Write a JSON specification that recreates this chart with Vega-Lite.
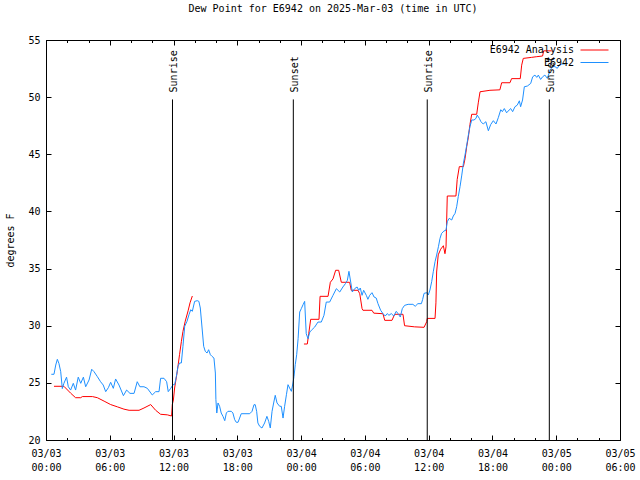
{
 "$schema": "https://vega.github.io/schema/vega-lite/v6.json",
 "width": 574, "height": 400,
 "autosize": {"type": "none"},
 "padding": {"left": 46, "top": 40, "right": 20, "bottom": 40},
 "background": "white",
 "title": {"text": "Dew Point for E6942 on 2025-Mar-03 (time in UTC)", "anchor": "middle", "frame": "group", "baseline": "alphabetic", "offset": 13, "fontSize": 10, "fontWeight": "normal", "font": "DejaVu Sans Mono", "color": "black"},
 "datasets": {
  "obs": [
   {"time":"2025-03-03T00:45:00Z","series":"E6942 Analysis","segment":1,"dewpoint":24.7},
   {"time":"2025-03-03T01:41:00Z","series":"E6942 Analysis","segment":1,"dewpoint":24.7},
   {"time":"2025-03-03T02:19:00Z","series":"E6942 Analysis","segment":1,"dewpoint":24.1},
   {"time":"2025-03-03T02:47:00Z","series":"E6942 Analysis","segment":1,"dewpoint":23.7},
   {"time":"2025-03-03T03:16:00Z","series":"E6942 Analysis","segment":1,"dewpoint":23.7},
   {"time":"2025-03-03T03:25:00Z","series":"E6942 Analysis","segment":1,"dewpoint":23.8},
   {"time":"2025-03-03T04:22:00Z","series":"E6942 Analysis","segment":1,"dewpoint":23.8},
   {"time":"2025-03-03T04:50:00Z","series":"E6942 Analysis","segment":1,"dewpoint":23.7},
   {"time":"2025-03-03T05:28:00Z","series":"E6942 Analysis","segment":1,"dewpoint":23.4},
   {"time":"2025-03-03T06:05:00Z","series":"E6942 Analysis","segment":1,"dewpoint":23.1},
   {"time":"2025-03-03T06:43:00Z","series":"E6942 Analysis","segment":1,"dewpoint":22.9},
   {"time":"2025-03-03T07:20:00Z","series":"E6942 Analysis","segment":1,"dewpoint":22.7},
   {"time":"2025-03-03T07:49:00Z","series":"E6942 Analysis","segment":1,"dewpoint":22.6},
   {"time":"2025-03-03T08:45:00Z","series":"E6942 Analysis","segment":1,"dewpoint":22.6},
   {"time":"2025-03-03T09:13:00Z","series":"E6942 Analysis","segment":1,"dewpoint":22.8},
   {"time":"2025-03-03T09:51:00Z","series":"E6942 Analysis","segment":1,"dewpoint":23.1},
   {"time":"2025-03-03T10:19:00Z","series":"E6942 Analysis","segment":1,"dewpoint":22.6},
   {"time":"2025-03-03T10:47:00Z","series":"E6942 Analysis","segment":1,"dewpoint":22.25},
   {"time":"2025-03-03T11:25:00Z","series":"E6942 Analysis","segment":1,"dewpoint":22.2},
   {"time":"2025-03-03T11:49:00Z","series":"E6942 Analysis","segment":1,"dewpoint":22.1},
   {"time":"2025-03-03T11:53:00Z","series":"E6942 Analysis","segment":1,"dewpoint":23.1},
   {"time":"2025-03-03T11:59:00Z","series":"E6942 Analysis","segment":1,"dewpoint":23.5},
   {"time":"2025-03-03T12:06:00Z","series":"E6942 Analysis","segment":1,"dewpoint":24.55},
   {"time":"2025-03-03T12:21:00Z","series":"E6942 Analysis","segment":1,"dewpoint":26.0},
   {"time":"2025-03-03T12:34:00Z","series":"E6942 Analysis","segment":1,"dewpoint":27.5},
   {"time":"2025-03-03T12:44:00Z","series":"E6942 Analysis","segment":1,"dewpoint":28.6},
   {"time":"2025-03-03T12:53:00Z","series":"E6942 Analysis","segment":1,"dewpoint":29.5},
   {"time":"2025-03-03T13:06:00Z","series":"E6942 Analysis","segment":1,"dewpoint":30.4},
   {"time":"2025-03-03T13:22:00Z","series":"E6942 Analysis","segment":1,"dewpoint":31.3},
   {"time":"2025-03-03T13:33:00Z","series":"E6942 Analysis","segment":1,"dewpoint":32.0},
   {"time":"2025-03-03T13:46:00Z","series":"E6942 Analysis","segment":1,"dewpoint":32.6},
   {"time":"2025-03-04T00:16:00Z","series":"E6942 Analysis","segment":2,"dewpoint":28.4},
   {"time":"2025-03-04T00:35:00Z","series":"E6942 Analysis","segment":2,"dewpoint":28.4},
   {"time":"2025-03-04T00:43:00Z","series":"E6942 Analysis","segment":2,"dewpoint":29.3},
   {"time":"2025-03-04T00:54:00Z","series":"E6942 Analysis","segment":2,"dewpoint":30.56},
   {"time":"2025-03-04T01:41:00Z","series":"E6942 Analysis","segment":2,"dewpoint":30.56},
   {"time":"2025-03-04T01:47:00Z","series":"E6942 Analysis","segment":2,"dewpoint":32.57},
   {"time":"2025-03-04T02:32:00Z","series":"E6942 Analysis","segment":2,"dewpoint":32.57},
   {"time":"2025-03-04T02:45:00Z","series":"E6942 Analysis","segment":2,"dewpoint":33.8},
   {"time":"2025-03-04T03:00:00Z","series":"E6942 Analysis","segment":2,"dewpoint":34.1},
   {"time":"2025-03-04T03:15:00Z","series":"E6942 Analysis","segment":2,"dewpoint":34.85},
   {"time":"2025-03-04T03:32:00Z","series":"E6942 Analysis","segment":2,"dewpoint":34.85},
   {"time":"2025-03-04T03:47:00Z","series":"E6942 Analysis","segment":2,"dewpoint":33.8},
   {"time":"2025-03-04T04:34:00Z","series":"E6942 Analysis","segment":2,"dewpoint":33.8},
   {"time":"2025-03-04T04:43:00Z","series":"E6942 Analysis","segment":2,"dewpoint":33.1},
   {"time":"2025-03-04T05:21:00Z","series":"E6942 Analysis","segment":2,"dewpoint":33.1},
   {"time":"2025-03-04T05:31:00Z","series":"E6942 Analysis","segment":2,"dewpoint":32.8},
   {"time":"2025-03-04T05:44:00Z","series":"E6942 Analysis","segment":2,"dewpoint":31.5},
   {"time":"2025-03-04T05:49:00Z","series":"E6942 Analysis","segment":2,"dewpoint":31.35},
   {"time":"2025-03-04T06:40:00Z","series":"E6942 Analysis","segment":2,"dewpoint":31.35},
   {"time":"2025-03-04T06:50:00Z","series":"E6942 Analysis","segment":2,"dewpoint":31.1},
   {"time":"2025-03-04T07:42:00Z","series":"E6942 Analysis","segment":2,"dewpoint":31.05},
   {"time":"2025-03-04T07:52:00Z","series":"E6942 Analysis","segment":2,"dewpoint":30.47},
   {"time":"2025-03-04T08:33:00Z","series":"E6942 Analysis","segment":2,"dewpoint":30.47},
   {"time":"2025-03-04T08:48:00Z","series":"E6942 Analysis","segment":2,"dewpoint":31.0},
   {"time":"2025-03-04T09:35:00Z","series":"E6942 Analysis","segment":2,"dewpoint":31.0},
   {"time":"2025-03-04T09:44:00Z","series":"E6942 Analysis","segment":2,"dewpoint":30.0},
   {"time":"2025-03-04T10:41:00Z","series":"E6942 Analysis","segment":2,"dewpoint":29.9},
   {"time":"2025-03-04T11:34:00Z","series":"E6942 Analysis","segment":2,"dewpoint":29.86},
   {"time":"2025-03-04T11:49:00Z","series":"E6942 Analysis","segment":2,"dewpoint":30.35},
   {"time":"2025-03-04T11:52:00Z","series":"E6942 Analysis","segment":2,"dewpoint":30.64},
   {"time":"2025-03-04T12:36:00Z","series":"E6942 Analysis","segment":2,"dewpoint":30.64},
   {"time":"2025-03-04T12:41:00Z","series":"E6942 Analysis","segment":2,"dewpoint":32.0},
   {"time":"2025-03-04T12:45:00Z","series":"E6942 Analysis","segment":2,"dewpoint":34.7},
   {"time":"2025-03-04T12:54:00Z","series":"E6942 Analysis","segment":2,"dewpoint":36.2},
   {"time":"2025-03-04T13:08:00Z","series":"E6942 Analysis","segment":2,"dewpoint":36.7},
   {"time":"2025-03-04T13:23:00Z","series":"E6942 Analysis","segment":2,"dewpoint":37.0},
   {"time":"2025-03-04T13:32:00Z","series":"E6942 Analysis","segment":2,"dewpoint":36.3},
   {"time":"2025-03-04T13:38:00Z","series":"E6942 Analysis","segment":2,"dewpoint":36.9},
   {"time":"2025-03-04T13:41:00Z","series":"E6942 Analysis","segment":2,"dewpoint":38.8},
   {"time":"2025-03-04T13:45:00Z","series":"E6942 Analysis","segment":2,"dewpoint":41.35},
   {"time":"2025-03-04T14:34:00Z","series":"E6942 Analysis","segment":2,"dewpoint":41.35},
   {"time":"2025-03-04T14:41:00Z","series":"E6942 Analysis","segment":2,"dewpoint":42.8},
   {"time":"2025-03-04T14:53:00Z","series":"E6942 Analysis","segment":2,"dewpoint":43.92},
   {"time":"2025-03-04T15:16:00Z","series":"E6942 Analysis","segment":2,"dewpoint":43.92},
   {"time":"2025-03-04T15:25:00Z","series":"E6942 Analysis","segment":2,"dewpoint":44.6},
   {"time":"2025-03-04T15:35:00Z","series":"E6942 Analysis","segment":2,"dewpoint":45.7},
   {"time":"2025-03-04T15:44:00Z","series":"E6942 Analysis","segment":2,"dewpoint":46.5},
   {"time":"2025-03-04T15:53:00Z","series":"E6942 Analysis","segment":2,"dewpoint":47.6},
   {"time":"2025-03-04T16:03:00Z","series":"E6942 Analysis","segment":2,"dewpoint":48.5},
   {"time":"2025-03-04T16:31:00Z","series":"E6942 Analysis","segment":2,"dewpoint":48.5},
   {"time":"2025-03-04T16:40:00Z","series":"E6942 Analysis","segment":2,"dewpoint":49.5},
   {"time":"2025-03-04T16:50:00Z","series":"E6942 Analysis","segment":2,"dewpoint":50.47},
   {"time":"2025-03-04T17:46:00Z","series":"E6942 Analysis","segment":2,"dewpoint":50.6},
   {"time":"2025-03-04T18:42:00Z","series":"E6942 Analysis","segment":2,"dewpoint":50.64},
   {"time":"2025-03-04T18:52:00Z","series":"E6942 Analysis","segment":2,"dewpoint":51.26},
   {"time":"2025-03-04T19:39:00Z","series":"E6942 Analysis","segment":2,"dewpoint":51.26},
   {"time":"2025-03-04T19:48:00Z","series":"E6942 Analysis","segment":2,"dewpoint":51.62},
   {"time":"2025-03-04T20:37:00Z","series":"E6942 Analysis","segment":2,"dewpoint":51.62},
   {"time":"2025-03-04T20:45:00Z","series":"E6942 Analysis","segment":2,"dewpoint":52.8},
   {"time":"2025-03-04T20:54:00Z","series":"E6942 Analysis","segment":2,"dewpoint":53.39},
   {"time":"2025-03-04T21:41:00Z","series":"E6942 Analysis","segment":2,"dewpoint":53.48},
   {"time":"2025-03-04T22:10:00Z","series":"E6942 Analysis","segment":2,"dewpoint":53.54},
   {"time":"2025-03-04T22:43:00Z","series":"E6942 Analysis","segment":2,"dewpoint":53.6},
   {"time":"2025-03-04T22:49:00Z","series":"E6942 Analysis","segment":2,"dewpoint":54.05},
   {"time":"2025-03-04T23:34:00Z","series":"E6942 Analysis","segment":2,"dewpoint":54.05},
   {"time":"2025-03-03T00:30:00Z","series":"E6942","segment":1,"dewpoint":25.75},
   {"time":"2025-03-03T00:45:00Z","series":"E6942","segment":1,"dewpoint":25.75},
   {"time":"2025-03-03T00:55:00Z","series":"E6942","segment":1,"dewpoint":26.56},
   {"time":"2025-03-03T01:04:00Z","series":"E6942","segment":1,"dewpoint":27.06},
   {"time":"2025-03-03T01:13:00Z","series":"E6942","segment":1,"dewpoint":26.7},
   {"time":"2025-03-03T01:23:00Z","series":"E6942","segment":1,"dewpoint":25.98},
   {"time":"2025-03-03T01:32:00Z","series":"E6942","segment":1,"dewpoint":24.5},
   {"time":"2025-03-03T01:41:00Z","series":"E6942","segment":1,"dewpoint":24.96},
   {"time":"2025-03-03T01:56:00Z","series":"E6942","segment":1,"dewpoint":25.5},
   {"time":"2025-03-03T02:06:00Z","series":"E6942","segment":1,"dewpoint":24.66},
   {"time":"2025-03-03T02:19:00Z","series":"E6942","segment":1,"dewpoint":24.37},
   {"time":"2025-03-03T02:34:00Z","series":"E6942","segment":1,"dewpoint":24.96},
   {"time":"2025-03-03T02:47:00Z","series":"E6942","segment":1,"dewpoint":24.37},
   {"time":"2025-03-03T03:02:00Z","series":"E6942","segment":1,"dewpoint":25.5},
   {"time":"2025-03-03T03:16:00Z","series":"E6942","segment":1,"dewpoint":24.96},
   {"time":"2025-03-03T03:31:00Z","series":"E6942","segment":1,"dewpoint":25.5},
   {"time":"2025-03-03T03:44:00Z","series":"E6942","segment":1,"dewpoint":24.66},
   {"time":"2025-03-03T04:03:00Z","series":"E6942","segment":1,"dewpoint":25.25},
   {"time":"2025-03-03T04:18:00Z","series":"E6942","segment":1,"dewpoint":26.19},
   {"time":"2025-03-03T04:31:00Z","series":"E6942","segment":1,"dewpoint":25.98},
   {"time":"2025-03-03T04:50:00Z","series":"E6942","segment":1,"dewpoint":25.54},
   {"time":"2025-03-03T05:08:00Z","series":"E6942","segment":1,"dewpoint":25.1},
   {"time":"2025-03-03T05:23:00Z","series":"E6942","segment":1,"dewpoint":24.81},
   {"time":"2025-03-03T05:37:00Z","series":"E6942","segment":1,"dewpoint":24.23},
   {"time":"2025-03-03T05:52:00Z","series":"E6942","segment":1,"dewpoint":24.58},
   {"time":"2025-03-03T06:05:00Z","series":"E6942","segment":1,"dewpoint":25.05},
   {"time":"2025-03-03T06:20:00Z","series":"E6942","segment":1,"dewpoint":24.52},
   {"time":"2025-03-03T06:33:00Z","series":"E6942","segment":1,"dewpoint":25.34},
   {"time":"2025-03-03T06:52:00Z","series":"E6942","segment":1,"dewpoint":24.81},
   {"time":"2025-03-03T07:17:00Z","series":"E6942","segment":1,"dewpoint":23.88},
   {"time":"2025-03-03T07:35:00Z","series":"E6942","segment":1,"dewpoint":24.37},
   {"time":"2025-03-03T07:54:00Z","series":"E6942","segment":1,"dewpoint":24.08},
   {"time":"2025-03-03T08:17:00Z","series":"E6942","segment":1,"dewpoint":24.08},
   {"time":"2025-03-03T08:35:00Z","series":"E6942","segment":1,"dewpoint":25.1},
   {"time":"2025-03-03T08:50:00Z","series":"E6942","segment":1,"dewpoint":24.66},
   {"time":"2025-03-03T09:13:00Z","series":"E6942","segment":1,"dewpoint":24.66},
   {"time":"2025-03-03T09:32:00Z","series":"E6942","segment":1,"dewpoint":24.52},
   {"time":"2025-03-03T10:00:00Z","series":"E6942","segment":1,"dewpoint":23.94},
   {"time":"2025-03-03T10:19:00Z","series":"E6942","segment":1,"dewpoint":24.23},
   {"time":"2025-03-03T10:38:00Z","series":"E6942","segment":1,"dewpoint":24.23},
   {"time":"2025-03-03T10:47:00Z","series":"E6942","segment":1,"dewpoint":25.4},
   {"time":"2025-03-03T11:06:00Z","series":"E6942","segment":1,"dewpoint":25.4},
   {"time":"2025-03-03T11:21:00Z","series":"E6942","segment":1,"dewpoint":25.1},
   {"time":"2025-03-03T11:30:00Z","series":"E6942","segment":1,"dewpoint":24.23},
   {"time":"2025-03-03T11:44:00Z","series":"E6942","segment":1,"dewpoint":24.52},
   {"time":"2025-03-03T11:57:00Z","series":"E6942","segment":1,"dewpoint":24.84},
   {"time":"2025-03-03T12:06:00Z","series":"E6942","segment":1,"dewpoint":24.84},
   {"time":"2025-03-03T12:16:00Z","series":"E6942","segment":1,"dewpoint":25.57},
   {"time":"2025-03-03T12:25:00Z","series":"E6942","segment":1,"dewpoint":26.45},
   {"time":"2025-03-03T12:34:00Z","series":"E6942","segment":1,"dewpoint":26.74},
   {"time":"2025-03-03T12:44:00Z","series":"E6942","segment":1,"dewpoint":26.74},
   {"time":"2025-03-03T12:53:00Z","series":"E6942","segment":1,"dewpoint":28.2},
   {"time":"2025-03-03T13:03:00Z","series":"E6942","segment":1,"dewpoint":29.95},
   {"time":"2025-03-03T13:16:00Z","series":"E6942","segment":1,"dewpoint":30.39},
   {"time":"2025-03-03T13:27:00Z","series":"E6942","segment":1,"dewpoint":30.96},
   {"time":"2025-03-03T13:37:00Z","series":"E6942","segment":1,"dewpoint":31.4},
   {"time":"2025-03-03T13:46:00Z","series":"E6942","segment":1,"dewpoint":31.26},
   {"time":"2025-03-03T13:59:00Z","series":"E6942","segment":1,"dewpoint":32.13},
   {"time":"2025-03-03T14:14:00Z","series":"E6942","segment":1,"dewpoint":32.19},
   {"time":"2025-03-03T14:23:00Z","series":"E6942","segment":1,"dewpoint":32.13},
   {"time":"2025-03-03T14:31:00Z","series":"E6942","segment":1,"dewpoint":31.55},
   {"time":"2025-03-03T14:41:00Z","series":"E6942","segment":1,"dewpoint":29.8},
   {"time":"2025-03-03T14:50:00Z","series":"E6942","segment":1,"dewpoint":28.2},
   {"time":"2025-03-03T14:59:00Z","series":"E6942","segment":1,"dewpoint":27.76},
   {"time":"2025-03-03T15:09:00Z","series":"E6942","segment":1,"dewpoint":27.61},
   {"time":"2025-03-03T15:18:00Z","series":"E6942","segment":1,"dewpoint":27.9},
   {"time":"2025-03-03T15:28:00Z","series":"E6942","segment":1,"dewpoint":27.46},
   {"time":"2025-03-03T15:37:00Z","series":"E6942","segment":1,"dewpoint":27.32},
   {"time":"2025-03-03T15:48:00Z","series":"E6942","segment":1,"dewpoint":27.17},
   {"time":"2025-03-03T15:56:00Z","series":"E6942","segment":1,"dewpoint":25.86},
   {"time":"2025-03-03T15:59:00Z","series":"E6942","segment":1,"dewpoint":23.53},
   {"time":"2025-03-03T16:04:00Z","series":"E6942","segment":1,"dewpoint":22.36},
   {"time":"2025-03-03T16:11:00Z","series":"E6942","segment":1,"dewpoint":23.24},
   {"time":"2025-03-03T16:20:00Z","series":"E6942","segment":1,"dewpoint":22.95},
   {"time":"2025-03-03T16:29:00Z","series":"E6942","segment":1,"dewpoint":22.36},
   {"time":"2025-03-03T16:39:00Z","series":"E6942","segment":1,"dewpoint":22.07},
   {"time":"2025-03-03T16:49:00Z","series":"E6942","segment":1,"dewpoint":21.69},
   {"time":"2025-03-03T16:58:00Z","series":"E6942","segment":1,"dewpoint":22.36},
   {"time":"2025-03-03T17:07:00Z","series":"E6942","segment":1,"dewpoint":22.51},
   {"time":"2025-03-03T17:26:00Z","series":"E6942","segment":1,"dewpoint":22.51},
   {"time":"2025-03-03T17:35:00Z","series":"E6942","segment":1,"dewpoint":22.36},
   {"time":"2025-03-03T17:45:00Z","series":"E6942","segment":1,"dewpoint":21.78},
   {"time":"2025-03-03T17:54:00Z","series":"E6942","segment":1,"dewpoint":21.55},
   {"time":"2025-03-03T18:04:00Z","series":"E6942","segment":1,"dewpoint":21.55},
   {"time":"2025-03-03T18:13:00Z","series":"E6942","segment":1,"dewpoint":21.92},
   {"time":"2025-03-03T18:22:00Z","series":"E6942","segment":1,"dewpoint":22.3},
   {"time":"2025-03-03T19:10:00Z","series":"E6942","segment":1,"dewpoint":22.3},
   {"time":"2025-03-03T19:23:00Z","series":"E6942","segment":1,"dewpoint":22.51},
   {"time":"2025-03-03T19:34:00Z","series":"E6942","segment":1,"dewpoint":23.09},
   {"time":"2025-03-03T19:41:00Z","series":"E6942","segment":1,"dewpoint":23.09},
   {"time":"2025-03-03T19:49:00Z","series":"E6942","segment":1,"dewpoint":22.51},
   {"time":"2025-03-03T19:56:00Z","series":"E6942","segment":1,"dewpoint":21.49},
   {"time":"2025-03-03T20:06:00Z","series":"E6942","segment":1,"dewpoint":21.2},
   {"time":"2025-03-03T20:19:00Z","series":"E6942","segment":1,"dewpoint":21.05},
   {"time":"2025-03-03T20:34:00Z","series":"E6942","segment":1,"dewpoint":21.49},
   {"time":"2025-03-03T20:47:00Z","series":"E6942","segment":1,"dewpoint":22.07},
   {"time":"2025-03-03T20:57:00Z","series":"E6942","segment":1,"dewpoint":21.63},
   {"time":"2025-03-03T21:06:00Z","series":"E6942","segment":1,"dewpoint":21.05},
   {"time":"2025-03-03T21:16:00Z","series":"E6942","segment":1,"dewpoint":22.51},
   {"time":"2025-03-03T21:25:00Z","series":"E6942","segment":1,"dewpoint":23.24},
   {"time":"2025-03-03T21:34:00Z","series":"E6942","segment":1,"dewpoint":23.91},
   {"time":"2025-03-03T21:44:00Z","series":"E6942","segment":1,"dewpoint":23.24},
   {"time":"2025-03-03T21:59:00Z","series":"E6942","segment":1,"dewpoint":22.95},
   {"time":"2025-03-03T22:08:00Z","series":"E6942","segment":1,"dewpoint":22.95},
   {"time":"2025-03-03T22:18:00Z","series":"E6942","segment":1,"dewpoint":21.92},
   {"time":"2025-03-03T22:27:00Z","series":"E6942","segment":1,"dewpoint":22.95},
   {"time":"2025-03-03T22:37:00Z","series":"E6942","segment":1,"dewpoint":23.96},
   {"time":"2025-03-03T22:46:00Z","series":"E6942","segment":1,"dewpoint":24.84},
   {"time":"2025-03-03T22:55:00Z","series":"E6942","segment":1,"dewpoint":24.55},
   {"time":"2025-03-03T23:05:00Z","series":"E6942","segment":1,"dewpoint":24.26},
   {"time":"2025-03-03T23:14:00Z","series":"E6942","segment":1,"dewpoint":24.99},
   {"time":"2025-03-03T23:20:00Z","series":"E6942","segment":1,"dewpoint":25.57},
   {"time":"2025-03-03T23:27:00Z","series":"E6942","segment":1,"dewpoint":26.59},
   {"time":"2025-03-03T23:35:00Z","series":"E6942","segment":1,"dewpoint":27.46},
   {"time":"2025-03-03T23:43:00Z","series":"E6942","segment":1,"dewpoint":28.86},
   {"time":"2025-03-03T23:52:00Z","series":"E6942","segment":1,"dewpoint":31.2},
   {"time":"2025-03-04T00:01:00Z","series":"E6942","segment":1,"dewpoint":31.49},
   {"time":"2025-03-04T00:11:00Z","series":"E6942","segment":1,"dewpoint":31.84},
   {"time":"2025-03-04T00:20:00Z","series":"E6942","segment":1,"dewpoint":32.13},
   {"time":"2025-03-04T00:29:00Z","series":"E6942","segment":1,"dewpoint":29.3},
   {"time":"2025-03-04T00:39:00Z","series":"E6942","segment":1,"dewpoint":28.86},
   {"time":"2025-03-04T00:49:00Z","series":"E6942","segment":1,"dewpoint":29.45},
   {"time":"2025-03-04T00:58:00Z","series":"E6942","segment":1,"dewpoint":29.6},
   {"time":"2025-03-04T01:17:00Z","series":"E6942","segment":1,"dewpoint":29.89},
   {"time":"2025-03-04T01:35:00Z","series":"E6942","segment":1,"dewpoint":30.32},
   {"time":"2025-03-04T01:54:00Z","series":"E6942","segment":1,"dewpoint":30.32},
   {"time":"2025-03-04T02:09:00Z","series":"E6942","segment":1,"dewpoint":30.91},
   {"time":"2025-03-04T02:22:00Z","series":"E6942","segment":1,"dewpoint":32.07},
   {"time":"2025-03-04T02:41:00Z","series":"E6942","segment":1,"dewpoint":32.07},
   {"time":"2025-03-04T03:00:00Z","series":"E6942","segment":1,"dewpoint":32.66},
   {"time":"2025-03-04T03:19:00Z","series":"E6942","segment":1,"dewpoint":33.24},
   {"time":"2025-03-04T03:38:00Z","series":"E6942","segment":1,"dewpoint":32.95},
   {"time":"2025-03-04T03:56:00Z","series":"E6942","segment":1,"dewpoint":33.39},
   {"time":"2025-03-04T04:10:00Z","series":"E6942","segment":1,"dewpoint":33.68},
   {"time":"2025-03-04T04:21:00Z","series":"E6942","segment":1,"dewpoint":33.97},
   {"time":"2025-03-04T04:30:00Z","series":"E6942","segment":1,"dewpoint":34.76},
   {"time":"2025-03-04T04:40:00Z","series":"E6942","segment":1,"dewpoint":33.82},
   {"time":"2025-03-04T04:49:00Z","series":"E6942","segment":1,"dewpoint":32.95},
   {"time":"2025-03-04T05:02:00Z","series":"E6942","segment":1,"dewpoint":33.24},
   {"time":"2025-03-04T05:16:00Z","series":"E6942","segment":1,"dewpoint":33.39},
   {"time":"2025-03-04T05:25:00Z","series":"E6942","segment":1,"dewpoint":33.1},
   {"time":"2025-03-04T05:34:00Z","series":"E6942","segment":1,"dewpoint":33.3},
   {"time":"2025-03-04T05:44:00Z","series":"E6942","segment":1,"dewpoint":32.66},
   {"time":"2025-03-04T05:53:00Z","series":"E6942","segment":1,"dewpoint":33.1},
   {"time":"2025-03-04T06:08:00Z","series":"E6942","segment":1,"dewpoint":32.66},
   {"time":"2025-03-04T06:17:00Z","series":"E6942","segment":1,"dewpoint":32.31},
   {"time":"2025-03-04T06:27:00Z","series":"E6942","segment":1,"dewpoint":32.66},
   {"time":"2025-03-04T06:40:00Z","series":"E6942","segment":1,"dewpoint":32.89},
   {"time":"2025-03-04T06:52:00Z","series":"E6942","segment":1,"dewpoint":32.51},
   {"time":"2025-03-04T07:04:00Z","series":"E6942","segment":1,"dewpoint":32.42},
   {"time":"2025-03-04T07:14:00Z","series":"E6942","segment":1,"dewpoint":31.93},
   {"time":"2025-03-04T07:29:00Z","series":"E6942","segment":1,"dewpoint":31.35},
   {"time":"2025-03-04T07:42:00Z","series":"E6942","segment":1,"dewpoint":31.06},
   {"time":"2025-03-04T07:55:00Z","series":"E6942","segment":1,"dewpoint":30.85},
   {"time":"2025-03-04T08:06:00Z","series":"E6942","segment":1,"dewpoint":31.06},
   {"time":"2025-03-04T08:16:00Z","series":"E6942","segment":1,"dewpoint":30.91},
   {"time":"2025-03-04T08:29:00Z","series":"E6942","segment":1,"dewpoint":31.06},
   {"time":"2025-03-04T08:43:00Z","series":"E6942","segment":1,"dewpoint":30.85},
   {"time":"2025-03-04T08:57:00Z","series":"E6942","segment":1,"dewpoint":31.26},
   {"time":"2025-03-04T09:07:00Z","series":"E6942","segment":1,"dewpoint":31.06},
   {"time":"2025-03-04T09:20:00Z","series":"E6942","segment":1,"dewpoint":30.76},
   {"time":"2025-03-04T09:31:00Z","series":"E6942","segment":1,"dewpoint":31.49},
   {"time":"2025-03-04T09:44:00Z","series":"E6942","segment":1,"dewpoint":31.78},
   {"time":"2025-03-04T10:04:00Z","series":"E6942","segment":1,"dewpoint":31.87},
   {"time":"2025-03-04T10:31:00Z","series":"E6942","segment":1,"dewpoint":31.87},
   {"time":"2025-03-04T10:44:00Z","series":"E6942","segment":1,"dewpoint":31.7},
   {"time":"2025-03-04T10:59:00Z","series":"E6942","segment":1,"dewpoint":31.93},
   {"time":"2025-03-04T11:19:00Z","series":"E6942","segment":1,"dewpoint":31.93},
   {"time":"2025-03-04T11:26:00Z","series":"E6942","segment":1,"dewpoint":32.3},
   {"time":"2025-03-04T11:34:00Z","series":"E6942","segment":1,"dewpoint":32.83},
   {"time":"2025-03-04T11:49:00Z","series":"E6942","segment":1,"dewpoint":32.89},
   {"time":"2025-03-04T11:58:00Z","series":"E6942","segment":1,"dewpoint":32.69},
   {"time":"2025-03-04T12:07:00Z","series":"E6942","segment":1,"dewpoint":33.12},
   {"time":"2025-03-04T12:17:00Z","series":"E6942","segment":1,"dewpoint":33.85},
   {"time":"2025-03-04T12:26:00Z","series":"E6942","segment":1,"dewpoint":34.72},
   {"time":"2025-03-04T12:36:00Z","series":"E6942","segment":1,"dewpoint":35.6},
   {"time":"2025-03-04T12:45:00Z","series":"E6942","segment":1,"dewpoint":36.18},
   {"time":"2025-03-04T12:55:00Z","series":"E6942","segment":1,"dewpoint":36.91},
   {"time":"2025-03-04T13:04:00Z","series":"E6942","segment":1,"dewpoint":37.64},
   {"time":"2025-03-04T13:13:00Z","series":"E6942","segment":1,"dewpoint":38.08},
   {"time":"2025-03-04T13:26:00Z","series":"E6942","segment":1,"dewpoint":38.28},
   {"time":"2025-03-04T13:38:00Z","series":"E6942","segment":1,"dewpoint":38.37},
   {"time":"2025-03-04T13:45:00Z","series":"E6942","segment":1,"dewpoint":39.1},
   {"time":"2025-03-04T13:56:00Z","series":"E6942","segment":1,"dewpoint":39.4},
   {"time":"2025-03-04T14:10:00Z","series":"E6942","segment":1,"dewpoint":39.25},
   {"time":"2025-03-04T14:19:00Z","series":"E6942","segment":1,"dewpoint":39.6},
   {"time":"2025-03-04T14:29:00Z","series":"E6942","segment":1,"dewpoint":39.83},
   {"time":"2025-03-04T14:38:00Z","series":"E6942","segment":1,"dewpoint":40.41},
   {"time":"2025-03-04T14:47:00Z","series":"E6942","segment":1,"dewpoint":41.29},
   {"time":"2025-03-04T14:57:00Z","series":"E6942","segment":1,"dewpoint":42.16},
   {"time":"2025-03-04T15:07:00Z","series":"E6942","segment":1,"dewpoint":43.18},
   {"time":"2025-03-04T15:16:00Z","series":"E6942","segment":1,"dewpoint":44.21},
   {"time":"2025-03-04T15:25:00Z","series":"E6942","segment":1,"dewpoint":44.93},
   {"time":"2025-03-04T15:35:00Z","series":"E6942","segment":1,"dewpoint":45.81},
   {"time":"2025-03-04T15:44:00Z","series":"E6942","segment":1,"dewpoint":46.68},
   {"time":"2025-03-04T15:53:00Z","series":"E6942","segment":1,"dewpoint":47.41},
   {"time":"2025-03-04T16:03:00Z","series":"E6942","segment":1,"dewpoint":48.0},
   {"time":"2025-03-04T16:16:00Z","series":"E6942","segment":1,"dewpoint":48.0},
   {"time":"2025-03-04T16:27:00Z","series":"E6942","segment":1,"dewpoint":48.14},
   {"time":"2025-03-04T16:34:00Z","series":"E6942","segment":1,"dewpoint":48.43},
   {"time":"2025-03-04T16:46:00Z","series":"E6942","segment":1,"dewpoint":48.14},
   {"time":"2025-03-04T16:55:00Z","series":"E6942","segment":1,"dewpoint":47.85},
   {"time":"2025-03-04T17:08:00Z","series":"E6942","segment":1,"dewpoint":47.65},
   {"time":"2025-03-04T17:23:00Z","series":"E6942","segment":1,"dewpoint":47.85},
   {"time":"2025-03-04T17:37:00Z","series":"E6942","segment":1,"dewpoint":47.06},
   {"time":"2025-03-04T17:50:00Z","series":"E6942","segment":1,"dewpoint":47.6},
   {"time":"2025-03-04T18:05:00Z","series":"E6942","segment":1,"dewpoint":47.94},
   {"time":"2025-03-04T18:20:00Z","series":"E6942","segment":1,"dewpoint":47.65},
   {"time":"2025-03-04T18:33:00Z","series":"E6942","segment":1,"dewpoint":48.2},
   {"time":"2025-03-04T18:47:00Z","series":"E6942","segment":1,"dewpoint":48.9},
   {"time":"2025-03-04T18:56:00Z","series":"E6942","segment":1,"dewpoint":48.73},
   {"time":"2025-03-04T19:07:00Z","series":"E6942","segment":1,"dewpoint":49.0},
   {"time":"2025-03-04T19:20:00Z","series":"E6942","segment":1,"dewpoint":48.63},
   {"time":"2025-03-04T19:34:00Z","series":"E6942","segment":1,"dewpoint":48.87},
   {"time":"2025-03-04T19:43:00Z","series":"E6942","segment":1,"dewpoint":49.0},
   {"time":"2025-03-04T19:54:00Z","series":"E6942","segment":1,"dewpoint":48.73},
   {"time":"2025-03-04T20:07:00Z","series":"E6942","segment":1,"dewpoint":49.16},
   {"time":"2025-03-04T20:20:00Z","series":"E6942","segment":1,"dewpoint":49.3},
   {"time":"2025-03-04T20:32:00Z","series":"E6942","segment":1,"dewpoint":49.68},
   {"time":"2025-03-04T20:39:00Z","series":"E6942","segment":1,"dewpoint":49.16},
   {"time":"2025-03-04T20:50:00Z","series":"E6942","segment":1,"dewpoint":49.75},
   {"time":"2025-03-04T21:00:00Z","series":"E6942","segment":1,"dewpoint":50.91},
   {"time":"2025-03-04T21:17:00Z","series":"E6942","segment":1,"dewpoint":50.97},
   {"time":"2025-03-04T21:36:00Z","series":"E6942","segment":1,"dewpoint":51.2},
   {"time":"2025-03-04T21:47:00Z","series":"E6942","segment":1,"dewpoint":51.78},
   {"time":"2025-03-04T22:00:00Z","series":"E6942","segment":1,"dewpoint":51.93},
   {"time":"2025-03-04T22:10:00Z","series":"E6942","segment":1,"dewpoint":51.73},
   {"time":"2025-03-04T22:19:00Z","series":"E6942","segment":1,"dewpoint":51.93},
   {"time":"2025-03-04T22:32:00Z","series":"E6942","segment":1,"dewpoint":51.55},
   {"time":"2025-03-04T22:43:00Z","series":"E6942","segment":1,"dewpoint":51.78},
   {"time":"2025-03-04T22:56:00Z","series":"E6942","segment":1,"dewpoint":51.93},
   {"time":"2025-03-04T23:10:00Z","series":"E6942","segment":1,"dewpoint":51.64},
   {"time":"2025-03-04T23:25:00Z","series":"E6942","segment":1,"dewpoint":52.37},
   {"time":"2025-03-04T23:40:00Z","series":"E6942","segment":1,"dewpoint":52.67},
   {"time":"2025-03-04T23:53:00Z","series":"E6942","segment":1,"dewpoint":52.67},
   {"time":"2025-03-05T00:06:00Z","series":"E6942","segment":1,"dewpoint":52.52},
   {"time":"2025-03-05T00:17:00Z","series":"E6942","segment":1,"dewpoint":52.8},
   {"time":"2025-03-05T00:31:00Z","series":"E6942","segment":1,"dewpoint":52.9},
   {"time":"2025-03-05T00:49:00Z","series":"E6942","segment":1,"dewpoint":52.9}
  ],
  "events": [
   {"time":"2025-03-03T11:54:00Z","event":"Sunrise"},
   {"time":"2025-03-03T23:16:00Z","event":"Sunset"},
   {"time":"2025-03-04T11:52:00Z","event":"Sunrise"},
   {"time":"2025-03-04T23:21:00Z","event":"Sunset"}
  ]
 },
 "resolve": {"axis": {"x": "independent", "y": "independent"}},
 "layer": [
  {
   "data": {"name": "obs"},
   "transform": [{"filter": "datum.series === 'E6942 Analysis'"}],
   "mark": {"type": "line", "strokeWidth": 1},
   "encoding": {
    "x": {"field": "time", "type": "temporal",
     "scale": {"type": "utc", "domain": [1740960000000, 1741154400000]},
     "axis": {"orient": "bottom", "title": null, "values": [1740960000000, 1740981600000, 1741003200000, 1741024800000, 1741046400000, 1741068000000, 1741089600000, 1741111200000, 1741132800000, 1741154400000], "labelExpr": "[utcFormat(datum.value, '%m/%d'), utcFormat(datum.value, '%H:%M')]", "tickSize": -5, "labelPadding": 13, "labelBaseline": "top", "labelLineHeight": 14, "labelFlush": false, "labelOverlap": false}},
    "y": {"field": "dewpoint", "type": "quantitative",
     "scale": {"domain": [20, 55], "nice": false, "zero": false},
     "axis": {"orient": "left", "values": [20, 25, 30, 35, 40, 45, 50, 55], "tickSize": -5, "labelPadding": 11, "title": "degrees F", "titleX": -36, "titleY": 200, "titleAngle": 270, "titleAlign": "center", "titleBaseline": "middle"}},
    "color": {"field": "series", "type": "nominal",
     "scale": {"domain": ["E6942 Analysis", "E6942"], "range": ["#ff0000", "#1e90ff"]},
     "legend": {"title": null}},
    "detail": {"field": "segment"}
   }
  },
  {
   "data": {"name": "obs"},
   "transform": [{"filter": "datum.series === 'E6942'"}],
   "mark": {"type": "line", "strokeWidth": 1},
   "encoding": {
    "x": {"field": "time", "type": "temporal",
     "axis": {"orient": "bottom", "title": null, "values": [1740960000000, 1740967200000, 1740974400000, 1740981600000, 1740988800000, 1740996000000, 1741003200000, 1741010400000, 1741017600000, 1741024800000, 1741032000000, 1741039200000, 1741046400000, 1741053600000, 1741060800000, 1741068000000, 1741075200000, 1741082400000, 1741089600000, 1741096800000, 1741104000000, 1741111200000, 1741118400000, 1741125600000, 1741132800000, 1741140000000, 1741147200000, 1741154400000], "labels": false, "tickSize": -2.5}},
    "y": {"field": "dewpoint", "type": "quantitative",
     "axis": {"orient": "right", "values": [20, 25, 30, 35, 40, 45, 50, 55], "tickSize": -5, "labels": false, "title": null}},
    "color": {"field": "series", "type": "nominal", "legend": {"title": null}},
    "detail": {"field": "segment"}
   }
  },
  {
   "data": {"name": "events"},
   "mark": {"type": "rule", "color": "black", "strokeWidth": 1},
   "encoding": {
    "x": {"field": "time", "type": "temporal",
     "axis": {"orient": "top", "title": null, "values": [1740960000000, 1740981600000, 1741003200000, 1741024800000, 1741046400000, 1741068000000, 1741089600000, 1741111200000, 1741132800000, 1741154400000], "labels": false, "tickSize": -5}},
    "y": {"datum": 49.8, "type": "quantitative", "axis": null},
    "y2": {"datum": 20}
   }
  },
  {
   "data": {"name": "events"},
   "mark": {"type": "text", "angle": 270, "align": "left", "baseline": "alphabetic", "dx": 7, "dy": 5, "font": "DejaVu Sans Mono", "fontSize": 10, "color": "black"},
   "encoding": {
    "x": {"field": "time", "type": "temporal",
     "axis": {"orient": "top", "title": null, "values": [1740960000000, 1740967200000, 1740974400000, 1740981600000, 1740988800000, 1740996000000, 1741003200000, 1741010400000, 1741017600000, 1741024800000, 1741032000000, 1741039200000, 1741046400000, 1741053600000, 1741060800000, 1741068000000, 1741075200000, 1741082400000, 1741089600000, 1741096800000, 1741104000000, 1741111200000, 1741118400000, 1741125600000, 1741132800000, 1741140000000, 1741147200000, 1741154400000], "labels": false, "tickSize": -2.5}},
    "y": {"datum": 49.8, "type": "quantitative", "axis": null},
    "text": {"field": "event"}
   }
  }
 ],
 "config": {
  "font": "DejaVu Sans Mono",
  "view": {"stroke": "black", "strokeWidth": 1},
  "axis": {"grid": false, "domain": false, "tickColor": "black", "tickWidth": 1, "labelFont": "DejaVu Sans Mono", "labelFontSize": 10, "labelColor": "black", "titleFont": "DejaVu Sans Mono", "titleFontSize": 10, "titleFontWeight": "normal", "titleColor": "black"},
  "legend": {"orient": "none", "legendX": 543.5, "legendY": 5, "direction": "vertical", "symbolType": "M-7,0H7", "symbolSize": 16, "symbolStrokeWidth": 1, "labelAlign": "right", "labelOffset": -25.5, "labelFont": "DejaVu Sans Mono", "labelFontSize": 10, "labelColor": "black", "labelLimit": 0, "rowPadding": 2.5, "padding": 0}
 }
}
